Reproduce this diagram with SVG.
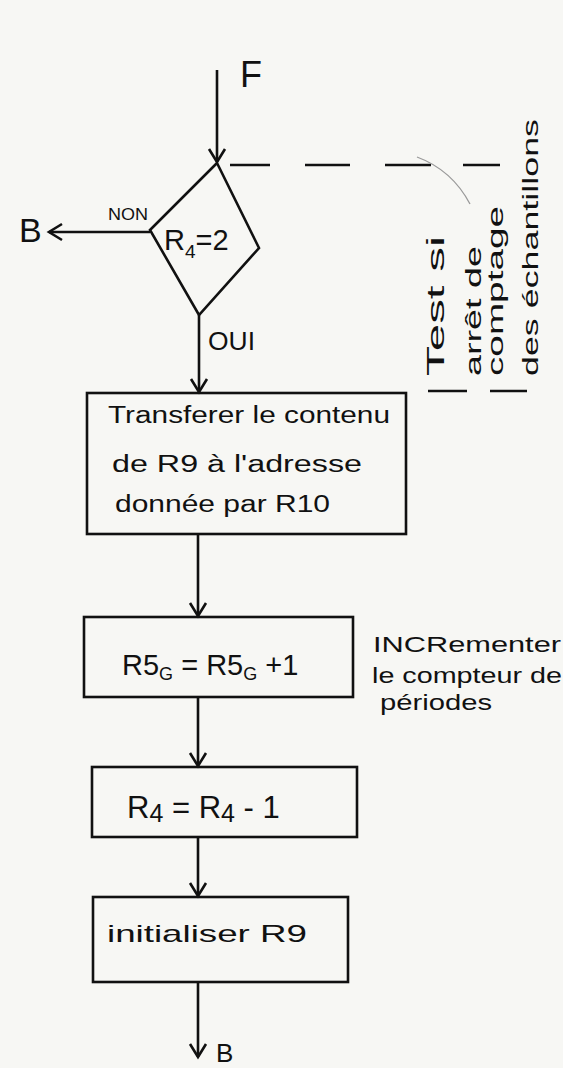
<svg xmlns="http://www.w3.org/2000/svg" width="563" height="1068" viewBox="0 0 563 1068">
<style>
.bg{fill:#f7f7f4}
.box{fill:none;stroke:#111;stroke-width:2.6}
.ln{fill:none;stroke:#111;stroke-width:2.6}
.dash{fill:none;stroke:#111;stroke-width:2.4}
.t{font-family:"Liberation Sans",Arial,sans-serif;fill:#111}
</style>
<defs>
<marker id="arr" markerUnits="userSpaceOnUse" markerWidth="30" markerHeight="30" viewBox="-15 -15 30 30" refX="0" refY="0" orient="auto">
<path d="M-13,-8 L0,0 L-13,8" fill="none" stroke="#111" stroke-width="2.6"/>
</marker>
</defs>
<rect class="bg" x="0" y="0" width="563" height="1068"/>

<g id="connectors">
<line class="ln" x1="217" y1="70" x2="217" y2="162" marker-end="url(#arr)"/>
<line class="ln" x1="150" y1="232" x2="49" y2="232" marker-end="url(#arr)"/>
<line class="ln" x1="199" y1="315" x2="199" y2="392" marker-end="url(#arr)"/>
<line class="ln" x1="198" y1="534" x2="198" y2="616" marker-end="url(#arr)"/>
<line class="ln" x1="198" y1="697" x2="198" y2="766" marker-end="url(#arr)"/>
<line class="ln" x1="198" y1="837" x2="198" y2="896" marker-end="url(#arr)"/>
<line class="ln" x1="198" y1="982" x2="198" y2="1057" marker-end="url(#arr)"/>
</g>

<g id="labels">
<text class="t" x="240" y="87" font-size="36">F</text>
<text class="t" x="19" y="242" font-size="34">B</text>
<text class="t" x="108" y="220" font-size="16" textLength="40" lengthAdjust="spacingAndGlyphs">NON</text>
<text class="t" x="208" y="350" font-size="25" textLength="47" lengthAdjust="spacingAndGlyphs">OUI</text>
<text class="t" x="216" y="1062" font-size="26">B</text>
</g>

<g id="decision">
<polygon class="box" points="217,163 259,248 199,315 150,230"/>
<text class="t" x="164" y="250" font-size="29">R<tspan font-size="19" dy="8">4</tspan><tspan dy="-8">=2</tspan></text>
</g>

<g id="annotation-test">
<path class="dash" d="M230,165H270M305,165H350M385,165H431M463,165H500"/>
<path class="dash" d="M428,391H467M490,391H527"/>
<path d="M417,157 Q452,170 470,204" fill="none" stroke="#9a9a9a" stroke-width="1.3"/>
<text class="t" font-size="23" transform="translate(444,376) rotate(-90)" textLength="140" lengthAdjust="spacingAndGlyphs">Test si</text>
<text class="t" font-size="22" transform="translate(481,376) rotate(-90)" textLength="130" lengthAdjust="spacingAndGlyphs">arrêt de</text>
<text class="t" font-size="22" transform="translate(503,376) rotate(-90)" textLength="170" lengthAdjust="spacingAndGlyphs">comptage</text>
<text class="t" font-size="22" transform="translate(538,376) rotate(-90)" textLength="257" lengthAdjust="spacingAndGlyphs">des échantillons</text>
</g>

<g id="box-transfer">
<rect class="box" x="87" y="393" width="319" height="141"/>
<text class="t" x="108" y="423" font-size="23" textLength="282" lengthAdjust="spacingAndGlyphs">Transferer le contenu</text>
<text class="t" x="112" y="472" font-size="23" textLength="250" lengthAdjust="spacingAndGlyphs">de R9 à l'adresse</text>
<text class="t" x="115" y="512" font-size="23" textLength="215" lengthAdjust="spacingAndGlyphs">donnée par R10</text>
</g>

<g id="box-increment">
<rect class="box" x="84" y="617" width="269" height="80"/>
<text class="t" x="122" y="675" font-size="29">R5<tspan font-size="18" dy="5">G</tspan><tspan dy="-5"> = R5</tspan><tspan font-size="18" dy="5">G</tspan><tspan dy="-5"> +1</tspan></text>
</g>

<g id="annotation-increment">
<text class="t" x="373" y="652" font-size="22" textLength="188" lengthAdjust="spacingAndGlyphs">INCRementer</text>
<text class="t" x="372" y="683" font-size="22" textLength="190" lengthAdjust="spacingAndGlyphs">le compteur de</text>
<text class="t" x="380" y="710" font-size="22" textLength="112" lengthAdjust="spacingAndGlyphs">périodes</text>
</g>

<g id="box-decrement">
<rect class="box" x="92" y="767" width="265" height="70"/>
<text class="t" x="127" y="818" font-size="31">R<tspan font-size="25" dy="4">4</tspan><tspan dy="-4"> = R</tspan><tspan font-size="25" dy="4">4</tspan><tspan dy="-4"> - 1</tspan></text>
</g>

<g id="box-init">
<rect class="box" x="93" y="897" width="255" height="85"/>
<text class="t" x="107" y="942" font-size="24" textLength="200" lengthAdjust="spacingAndGlyphs">initialiser R9</text>
</g>
</svg>
